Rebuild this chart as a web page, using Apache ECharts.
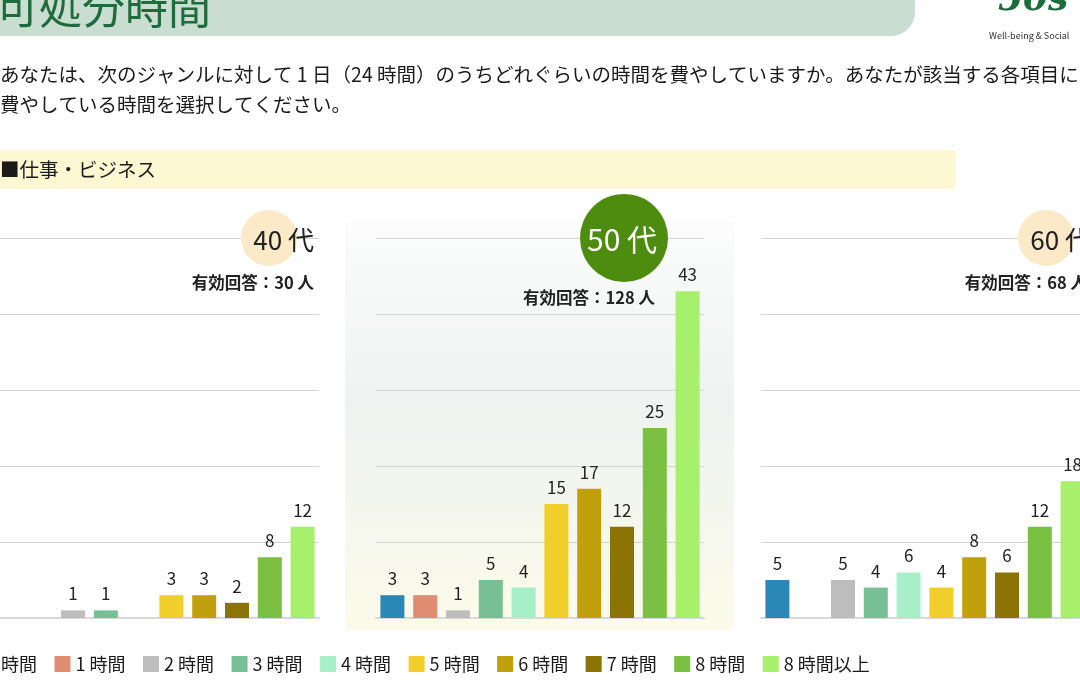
<!DOCTYPE html>
<html lang="ja">
<head>
    <meta charset="UTF-8">
    <title>可処分時間 - 仕事・ビジネス</title>
    <!-- Include ECharts from CDN -->
    <script src="https://cdn.jsdelivr.net/npm/echarts@6/dist/echarts.min.js"></script>
    <style>
        html, body { margin: 0; padding: 0; background: #fff; }
        /* Set the size of the chart container */
        #chart { width: 1080px; height: 684px; }
    </style>
</head>
<body>
    <div id="chart"></div>

    <script>
        // Categories (answer choices) and colours
        var categories = ['0 時間', '1 時間', '2 時間', '3 時間', '4 時間', '5 時間', '6 時間', '7 時間', '8 時間', '8 時間以上'];
        var colors = ['#2b87b5', '#e08c72', '#bdbdbd', '#78bf96', '#a7efc8', '#f1cf2b', '#c0a00c', '#8b7305', '#7bc043', '#a8ef6c'];

        // Respondents per age group
        var ageGroups = ['40 代', '50 代', '60 代'];
        var respondents = [30, 128, 68];
        var values40 = [0, 0, 1, 1, 0, 3, 3, 2, 8, 12];
        var values50 = [3, 3, 1, 5, 4, 15, 17, 12, 25, 43];
        var values60 = [5, 0, 5, 4, 6, 4, 8, 6, 12, 18];
        var allValues = [values40, values50, values60];

        var FONT = '"Noto Sans CJK JP", "Noto Sans", sans-serif';

        var chartDom = document.getElementById('chart');
        var myChart = echarts.init(chartDom);

        // one grid per age group (the outer ones run past the page edge)
        var gridLefts = [-9, 376, 761];
        var grids = [], xAxes = [], yAxes = [], series = [];

        for (var g = 0; g < 3; g++) {
            grids.push({ left: gridLefts[g], top: 238, width: 328, height: 380, outerBoundsMode: 'none' });
            xAxes.push({
                type: 'category',
                gridIndex: g,
                data: categories,
                axisLine: { lineStyle: { color: '#d9d9d9', width: 2 } },
                axisTick: { show: false },
                axisLabel: { show: false }
            });
            yAxes.push({
                type: 'value',
                gridIndex: g,
                min: 0,
                max: 50,
                interval: 10,
                axisLabel: { show: false },
                splitLine: { lineStyle: { color: '#d4d4d4', width: 1 } }
            });

            // one series per category so the legend gets its colours;
            // bars overlap at their own slot via barGap -100%
            for (var c = 0; c < categories.length; c++) {
                var data = categories.map(function (name, k) {
                    return k === c ? allValues[g][c] : '-';
                });
                series.push({
                    type: 'bar',
                    name: categories[c],
                    xAxisIndex: g,
                    yAxisIndex: g,
                    data: data,
                    barWidth: 24,
                    barGap: '-100%',
                    itemStyle: { color: colors[c] },
                    label: {
                        show: true,
                        position: 'top',
                        distance: 8,
                        fontSize: 17,
                        fontFamily: FONT,
                        color: '#222',
                        formatter: function (p) { return p.value ? p.value : ''; }
                    }
                });
            }
        }

        // header, question, section band, age badges
        var graphics = [
            // title banner
            { type: 'rect', z: 5, shape: { x: -30, y: -30, width: 945, height: 66, r: [0, 24, 24, 0] }, style: { fill: '#c9ddd1' } },
            { type: 'text', z: 6, x: -4, y: 29, style: { text: '可処分時間', font: '43px ' + FONT, fill: '#1e6b3c', textVerticalAlign: 'bottom' } },
            // logo (cut at the edge)
            { type: 'text', z: 6, x: 998, y: 19, style: { text: '50s', font: 'italic bold 36px "DejaVu Serif", serif', fill: '#1e6b3c', textVerticalAlign: 'bottom' } },
            { type: 'text', z: 6, x: 989, y: 36, style: { text: 'Well-being & Social', font: '9px ' + FONT, fill: '#333', textVerticalAlign: 'middle' } },
            // question
            { type: 'text', z: 6, x: 0, y: 75, style: { text: 'あなたは、次のジャンルに対して 1 日（24 時間）のうちどれぐらいの時間を費やしていますか。あなたが該当する各項目に', font: '19.5px ' + FONT, fill: '#1a1a1a', textVerticalAlign: 'middle' } },
            { type: 'text', z: 6, x: 0, y: 105, style: { text: '費やしている時間を選択してください。', font: '19.5px ' + FONT, fill: '#1a1a1a', textVerticalAlign: 'middle' } },
            // section band
            { type: 'rect', z: 5, shape: { x: -10, y: 150, width: 965, height: 39 }, style: { fill: '#fdf8d2' } },
            { type: 'text', z: 6, x: 0, y: 170, style: { text: '■仕事・ビジネス', font: '19.5px ' + FONT, fill: '#1a1a1a', textVerticalAlign: 'middle' } },
            // highlighted 50代 panel
            {
                type: 'rect', z: -10, shape: { x: 345, y: 222, width: 389, height: 408 },
                style: {
                    fill: new echarts.graphic.LinearGradient(0, 0, 0, 1, [
                        { offset: 0, color: '#fbfcfb' },
                        { offset: 0.45, color: '#eef3f1' },
                        { offset: 1, color: '#fcfbea' }
                    ])
                }
            },
            // age badges
            { type: 'circle', z: 20, shape: { cx: 269, cy: 238, r: 28 }, style: { fill: '#fbe9c7' } },
            { type: 'text', z: 21, x: 314, y: 240, style: { text: ageGroups[0], font: '26px ' + FONT, fill: '#222', align: 'right', textVerticalAlign: 'middle' } },
            { type: 'circle', z: 20, shape: { cx: 624, cy: 238, r: 44 }, style: { fill: '#4e8c10' } },
            { type: 'text', z: 21, x: 622, y: 240, style: { text: ageGroups[1], font: '30px ' + FONT, fill: '#fff', align: 'center', textVerticalAlign: 'middle' } },
            { type: 'circle', z: 20, shape: { cx: 1046, cy: 238, r: 28 }, style: { fill: '#fbe9c7' } },
            { type: 'text', z: 21, x: 1091, y: 240, style: { text: ageGroups[2], font: '26px ' + FONT, fill: '#222', align: 'right', textVerticalAlign: 'middle' } },
            // respondents
            { type: 'text', z: 21, x: 314, y: 283, style: { text: '有効回答：' + respondents[0] + ' 人', font: 'bold 16.5px ' + FONT, fill: '#222', align: 'right', textVerticalAlign: 'middle' } },
            { type: 'text', z: 21, x: 655, y: 298, style: { text: '有効回答：' + respondents[1] + ' 人', font: 'bold 16.5px ' + FONT, fill: '#222', align: 'right', textVerticalAlign: 'middle' } },
            { type: 'text', z: 21, x: 1087, y: 283, style: { text: '有効回答：' + respondents[2] + ' 人', font: 'bold 16.5px ' + FONT, fill: '#222', align: 'right', textVerticalAlign: 'middle' } }
        ];

        var option = {
            animation: false,
            textStyle: { fontFamily: FONT },
            legend: {
                data: categories,
                left: -39,
                top: 650,
                icon: 'rect',
                itemWidth: 16,
                itemHeight: 16,
                itemGap: 17.5,
                selectedMode: false,
                textStyle: { fontSize: 18, color: '#1a1a1a', fontFamily: FONT }
            },
            grid: grids,
            xAxis: xAxes,
            yAxis: yAxes,
            graphic: graphics,
            series: series
        };

        myChart.setOption(option);
    </script>
</body>
</html>
